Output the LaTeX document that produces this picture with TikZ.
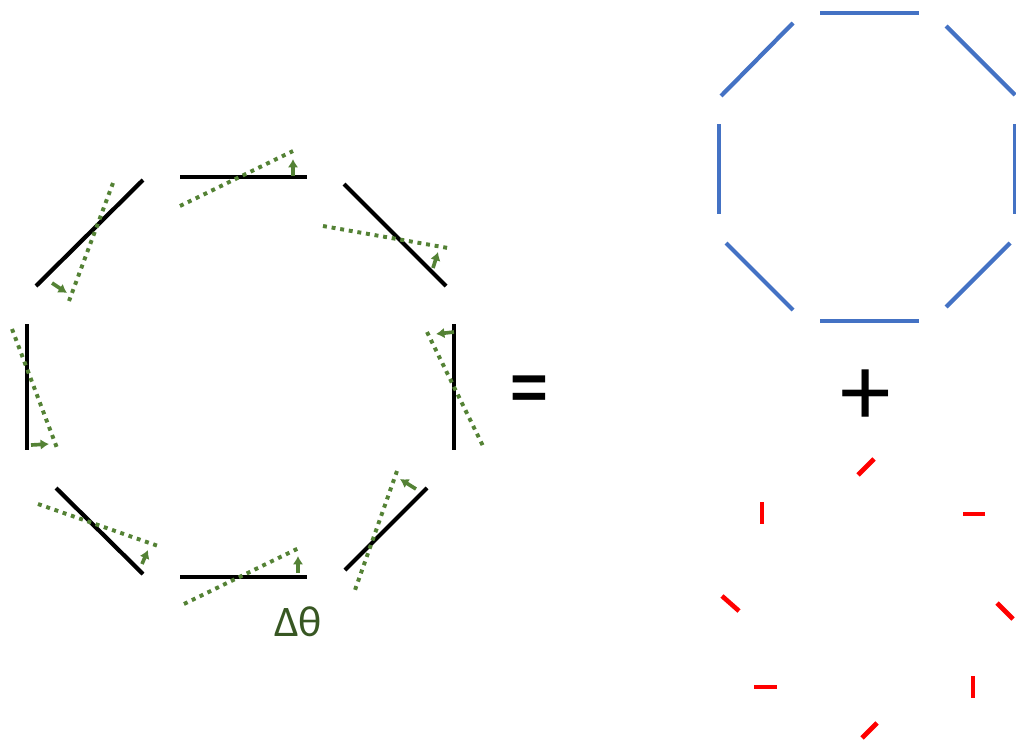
\documentclass[tikz,border=0pt]{standalone}
\usepackage{fontspec}
\setmainfont{Carlito}
\newfontfamily\arialfont{Liberation Sans}
\usepackage{xcolor}
\usepackage{tikz}
\usetikzlibrary{arrows.meta}
\definecolor{xanhla}{HTML}{548235}
\definecolor{xanhdam}{HTML}{385723}
\definecolor{xanhduong}{HTML}{4472C4}

\begin{document}
\begin{tikzpicture}[>={Latex[length=6pt,width=7.5pt]}, x=0.025cm, y=-0.025cm,
    octside/.style={line width=3pt},
    tiltline/.style={xanhla, line width=2.8pt, dash pattern=on 2.8pt off 3.4pt},
    turnarrow/.style={->, xanhla, line width=2.6pt},
    bluebar/.style={xanhduong, line width=3pt},
    redbar/.style={red, line width=3.3pt}]
    \useasboundingbox (0,0) rectangle (1016,742);

    % Bát giác bên trái
    \foreach \xa/\ya/\xb/\yb in {180/177/307/177, 344/184/446/286, 454/324/454/450,
        427/488/345/570, 180/577/307/577, 56/488/143/574, 27/324/27/450, 36/286/143/180} {
        \draw[octside] (\xa,\ya) -- (\xb,\yb);
    }

    % Các cạnh bị xoay
    \foreach \xa/\ya/\xb/\yb in {180/206/293/151, 113/183/69/301, 323/226/448/248,
        427/332/483/446, 397/471/355/590, 184/604/301/547, 38/504/161/547, 12/329/57/448} {
        \draw[tiltline] (\xa,\ya) -- (\xb,\yb);
    }
    \foreach \xa/\ya/\xb/\yb in {293/176/293/159, 52/283/67/293, 433/268/438/252,
        454/332/436/334, 416/489/400/479, 298/573/298/556, 142/564/148/550, 31/445/49/444} {
        \draw[turnarrow] (\xa,\ya) -- (\xb,\yb);
    }
    \node[xanhdam, font=\fontsize{31pt}{31pt}\selectfont, inner sep=0] (dtheta) at (298,622) {Δθ};

    % Dấu bằng
    \node[font=\arialfont\fontsize{46pt}{46pt}\selectfont\bfseries, inner sep=0] (bang) at (529,393) {=};

    % Bát giác xanh
    \foreach \xa/\ya/\xb/\yb in {820/13/919/13, 946/26/1015/95, 1015/124/1015/214,
        1010/243/946/307, 820/321/919/321, 726/243/793/310, 719/124/719/214, 721/96/793/23} {
        \draw[bluebar] (\xa,\ya) -- (\xb,\yb);
    }

    % Dấu cộng
    \node[font=\fontsize{72pt}{72pt}\selectfont, inner sep=0] (cong) at (866,398) {+};

    % Các đoạn đỏ
    \foreach \xa/\ya/\xb/\yb in {858/475/874/459, 963/514/985/514, 997/603/1013/619,
        973/676/973/698, 862/738/877/723, 754/687/777/687, 722/596/739/611, 762/502/762/524} {
        \draw[redbar] (\xa,\ya) -- (\xb,\yb);
    }
\end{tikzpicture}
\end{document}
